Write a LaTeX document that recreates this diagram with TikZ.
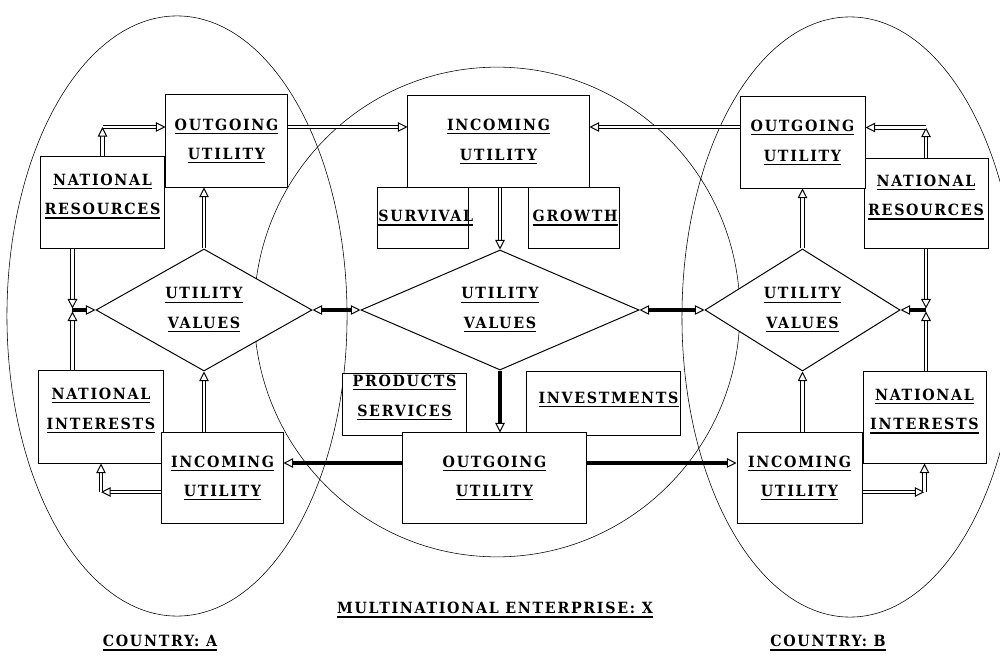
\documentclass[tikz,border=0pt]{standalone}
\usepackage{fontspec}
\usepackage{tikz}
\usetikzlibrary{arrows.meta,positioning,shapes.geometric}
\newfontfamily\diagfont[LetterSpace=11,FakeStretch=0.92]{DejaVu Serif}
% underlined caps, rule a bit heavier than \underline
\newcommand{\lbl}[1]{\sbox0{#1}\rlap{\rule[-2.8pt]{\wd0}{0.9pt}}\usebox0}

\begin{document}
\begin{tikzpicture}[
  x=0.025cm, y=-0.025cm,
  font=\diagfont\bfseries\fontsize{11}{21}\selectfont,
  box/.style={draw,fill=white,line width=0.7pt,align=center,inner sep=1pt},
  vals/.style={diamond,draw,fill=white,line width=0.7pt,align=center,
    inner sep=0pt,aspect=1.7,minimum height=3.05cm},
  dbl/.style={double,double distance=2pt,line width=0.55pt},
  heavy/.style={line width=2.2pt},
  >={Triangle[open,length=2.4mm,width=2.4mm,line width=0.7pt]}
]
  \useasboundingbox (0,0) rectangle (1000,656);
  % the three regions
  \draw[thin] (177,316) ellipse [x radius=4.25cm, y radius=7.5cm];
  \draw[thin] (497,312) ellipse [x radius=6.07cm, y radius=6.12cm];
  \draw[thin] (850,317) ellipse [x radius=4.2cm, y radius=7.5cm];

  % country A
  \node[box,minimum width=3.075cm,minimum height=2.275cm,text depth=12pt] (nrA) at (102.5,202.5) {\lbl{NATIONAL}\\\lbl{RESOURCES}};
  \node[box,minimum width=3.025cm,minimum height=2.3cm] (outA) at (226.5,141) {\lbl{OUTGOING}\\\lbl{UTILITY}};
  \node[vals,minimum width=5.4cm] (valA) at (204,310) {\lbl{UTILITY}\\\lbl{VALUES}};
  \node[box,minimum width=3.1cm,minimum height=2.3cm,text depth=12pt] (niA) at (101,417) {\lbl{NATIONAL}\\\lbl{INTERESTS}};
  \node[box,minimum width=3.025cm,minimum height=2.25cm] (inA) at (222.5,478) {\lbl{INCOMING}\\\lbl{UTILITY}};

  % enterprise X
  \node[box,minimum width=4.525cm,minimum height=2.275cm] (inX) at (498.5,141.5) {\lbl{INCOMING}\\\lbl{UTILITY}};
  \node[box,minimum width=2.275cm,minimum height=1.5cm,text width=2.2cm,align=left] (surv) at (422.5,218) {\lbl{SURVIVAL}};
  \node[box,minimum width=2.25cm,minimum height=1.5cm,text width=2.18cm,align=right] (grow) at (574,218) {\lbl{GROWTH}};
  \node[vals,minimum width=6.95cm,minimum height=3cm] (valX) at (500,310) {\lbl{UTILITY}\\\lbl{VALUES}};
  \node[box,minimum width=3.075cm,minimum height=1.55cm,text depth=12pt] (prod) at (404.5,404) {\lbl{PRODUCTS}\\\lbl{SERVICES}};
  \node[box,minimum width=3.825cm,minimum height=1.6cm,text width=3.75cm,align=right,text depth=8pt] (inv) at (603.5,403) {\lbl{INVESTMENTS}};
  \node[box,minimum width=4.575cm,minimum height=2.25cm] (outX) at (494.5,478) {\lbl{OUTGOING}\\\lbl{UTILITY}};

  % country B
  \node[box,minimum width=3.1cm,minimum height=2.225cm,text depth=12pt] (nrB) at (926,203.5) {\lbl{NATIONAL}\\\lbl{RESOURCES}};
  \node[box,minimum width=3.125cm,minimum height=2.275cm] (outB) at (802.5,142.5) {\lbl{OUTGOING}\\\lbl{UTILITY}};
  \node[vals,minimum width=4.875cm] (valB) at (802.5,310) {\lbl{UTILITY}\\\lbl{VALUES}};
  \node[box,minimum width=3.075cm,minimum height=2.275cm,text depth=12pt] (niB) at (924.5,417.5) {\lbl{NATIONAL}\\\lbl{INTERESTS}};
  \node[box,minimum width=3.125cm,minimum height=2.25cm] (inB) at (799.5,478) {\lbl{INCOMING}\\\lbl{UTILITY}};

  % flows inside country A
  \coordinate (resA) at ([yshift=3.5mm]outA.west -| nrA.north);
  \draw[dbl,->] (nrA.north) -- (resA);
  \draw[dbl,->] (resA) -- (resA -| outA.west);
  \draw[dbl,->] (valA.north) -- (valA.north |- outA.south);
  \draw[dbl,->] (inA.north -| valA.south) -- (valA.south);
  \coordinate (jA) at ([xshift=-7.5mm]nrA.south |- valA.west);
  \draw[dbl,->,shorten >=1pt] (nrA.south -| jA) -- (jA);
  \draw[dbl,->,shorten >=1pt] (niA.north -| jA) -- (jA);
  \draw[heavy,->] (jA) -- (valA.west);
  \coordinate (intA) at ([yshift=-3.5mm]inA.west -| niA.south);
  \draw[dbl,->] ([yshift=-3.5mm]inA.west) -- (intA);
  \draw[dbl,->] (intA) -- (niA.south);

  % flows through the enterprise
  \draw[dbl,->] ([yshift=3.5mm]outA.east) -- ([yshift=3.5mm]outA.east -| inX.west);
  \draw[dbl,->] ([yshift=3.5mm]outA.east -| outB.west) -- ([yshift=3.5mm]outA.east -| inX.east);
  \draw[dbl,->] (inX.south -| valX.north) -- (valX.north);
  \draw[heavy,->] (valX.south) -- (valX.south |- outX.north);
  \draw[heavy,->] ([yshift=3.75mm]outX.west) -- ([yshift=3.75mm]outX.west -| inA.east);
  \draw[heavy,->] ([yshift=3.75mm]outX.east) -- ([yshift=3.75mm]outX.east -| inB.west);
  \draw[heavy,<->] (valA.east) -- (valX.west);
  \draw[heavy,<->] (valX.east) -- (valB.west);

  % flows inside country B
  \coordinate (resB) at ([yshift=3.75mm]outB.east -| nrB.north);
  \draw[dbl,->] (nrB.north) -- (resB);
  \draw[dbl,->] (resB) -- (resB -| outB.east);
  \draw[dbl,->] (valB.north) -- (valB.north |- outB.south);
  \draw[dbl,->] (inB.north -| valB.south) -- (valB.south);
  \coordinate (jB) at (nrB.south |- valB.east);
  \draw[dbl,->,shorten >=1pt] (nrB.south) -- (jB);
  \draw[dbl,->,shorten >=1pt] (niB.north -| jB) -- (jB);
  \draw[heavy,->] (jB) -- (valB.east);
  \coordinate (intB) at ([yshift=-3.5mm]inB.east -| niB.south);
  \draw[dbl,->] ([yshift=-3.5mm]inB.east) -- (intB);
  \draw[dbl,->] (intB) -- (niB.south);

  % captions
  \node (capA) at (160,643) {\lbl{COUNTRY: A}};
  \node (capX) at (495,610) {\lbl{MULTINATIONAL ENTERPRISE: X}};
  \node (capB) at (828,643) {\lbl{COUNTRY: B}};
\end{tikzpicture}
\end{document}
